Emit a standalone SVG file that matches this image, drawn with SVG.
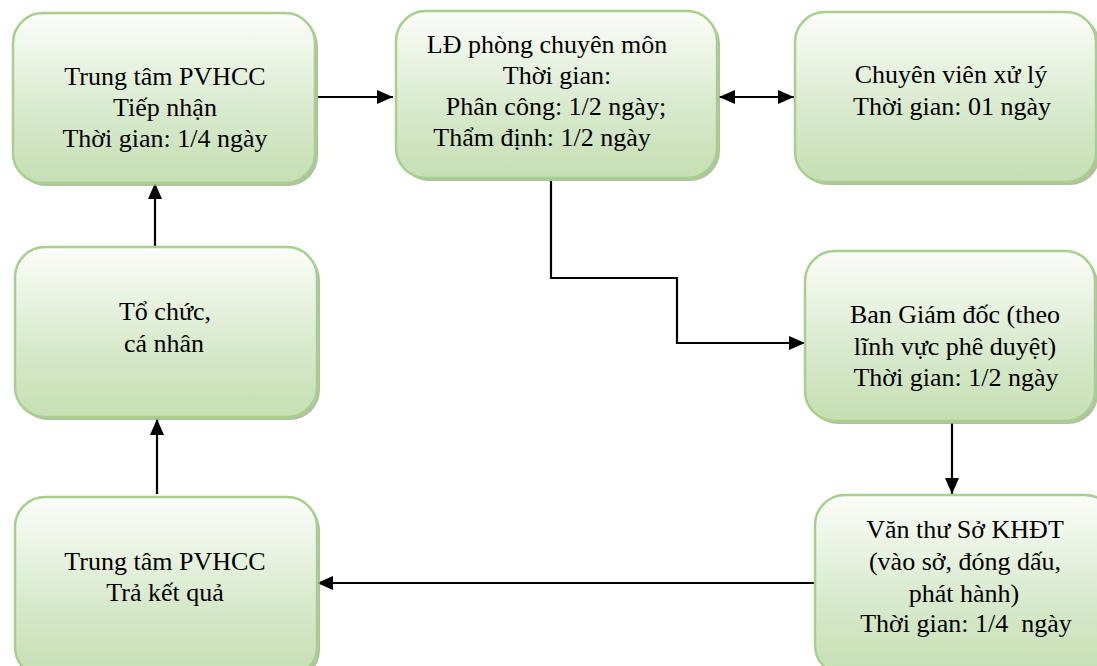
<svg xmlns="http://www.w3.org/2000/svg" width="1097" height="666" viewBox="0 0 1097 666">
<defs>
<linearGradient id="g" x1="0" y1="0" x2="0" y2="1">
<stop offset="0" stop-color="#fbfdf9"/>
<stop offset="0.6" stop-color="#d7e9cb"/>
<stop offset="1" stop-color="#c5dfb3"/>
</linearGradient>
<marker id="ah" viewBox="0 0 16 14" refX="16" refY="7" markerWidth="16" markerHeight="14" markerUnits="userSpaceOnUse" orient="auto-start-reverse">
<path d="M0,0 L16,7 L0,14 Z" fill="#000"/>
</marker>
<style>
.sh{fill:#9fb08f;opacity:0.8}
.bx{fill:url(#g);stroke:#a6d08c;stroke-width:2.5}
.t{font-family:'Liberation Serif','DejaVu Serif',serif;font-size:26px;fill:#000;text-anchor:middle}
.c{fill:none;stroke:#000;stroke-width:2.2}
</style>
</defs>
<rect width="1097" height="666" fill="#fff"/>
<g id="connectors">
<line class="c" x1="318" y1="97" x2="393" y2="97" marker-end="url(#ah)"/>
<line class="c" x1="719" y1="97" x2="794" y2="97" marker-start="url(#ah)" marker-end="url(#ah)"/>
<polyline class="c" points="551,181 551,278 677,278 677,343 805,343" marker-end="url(#ah)"/>
<line class="c" x1="952" y1="423" x2="952" y2="494" marker-end="url(#ah)"/>
<line class="c" x1="814" y1="583" x2="317" y2="583" marker-end="url(#ah)"/>
<line class="c" x1="157" y1="494" x2="157" y2="419" marker-end="url(#ah)"/>
<line class="c" x1="155" y1="247" x2="155" y2="183" marker-end="url(#ah)"/>
</g>
<g id="n1" class="t" font-family="Liberation Serif, serif">
<rect class="sh" x="16" y="16" width="302" height="170" rx="30"/>
<rect class="bx" x="13" y="13" width="302" height="170" rx="30"/>
<text x="165" y="85">Trung tâm PVHCC</text>
<text x="165" y="116">Tiếp nhận</text>
<text x="165" y="147">Thời gian: 1/4 ngày</text>
</g>
<g id="n2" class="t" font-family="Liberation Serif, serif">
<rect class="sh" x="399" y="14" width="321" height="167" rx="30"/>
<rect class="bx" x="396" y="11" width="321" height="167" rx="30"/>
<text x="547" y="53">LĐ phòng chuyên môn</text>
<text x="557" y="84">Thời gian:</text>
<text x="556" y="115">Phân công: 1/2 ngày;</text>
<text x="542" y="146">Thẩm định: 1/2 ngày</text>
</g>
<g id="n3" class="t" font-family="Liberation Serif, serif">
<rect class="sh" x="798" y="15" width="302" height="170" rx="30"/>
<rect class="bx" x="795" y="12" width="301" height="170" rx="30"/>
<text x="951" y="83">Chuyên viên xử lý</text>
<text x="952" y="115">Thời gian: 01 ngày</text>
</g>
<g id="n4" class="t" font-family="Liberation Serif, serif">
<rect class="sh" x="18" y="250" width="302" height="170" rx="30"/>
<rect class="bx" x="15" y="247" width="302" height="170" rx="30"/>
<text x="165" y="320">Tổ chức,</text>
<text x="164" y="352">cá nhân</text>
</g>
<g id="n5" class="t" font-family="Liberation Serif, serif">
<rect class="sh" x="808" y="254" width="290" height="170" rx="30"/>
<rect class="bx" x="805" y="251" width="290" height="170" rx="30"/>
<text x="955" y="323">Ban Giám đốc (theo</text>
<text x="955" y="355">lĩnh vực phê duyệt)</text>
<text x="956" y="386">Thời gian: 1/2 ngày</text>
</g>
<g id="n6" class="t" font-family="Liberation Serif, serif">
<rect class="sh" x="818" y="498" width="300" height="180" rx="30"/>
<rect class="bx" x="815" y="495" width="300" height="180" rx="30"/>
<text x="965" y="538">Văn thư Sở KHĐT</text>
<text x="965" y="570">(vào sở, đóng dấu,</text>
<text x="964" y="602">phát hành)</text>
<text x="966" y="632" xml:space="preserve">Thời gian: 1/4  ngày</text>
</g>
<g id="n7" class="t" font-family="Liberation Serif, serif">
<rect class="sh" x="18" y="500" width="302" height="180" rx="30"/>
<rect class="bx" x="15" y="497" width="302" height="180" rx="30"/>
<text x="165" y="570">Trung tâm PVHCC</text>
<text x="165" y="601">Trả kết quả</text>
</g>
</svg>
